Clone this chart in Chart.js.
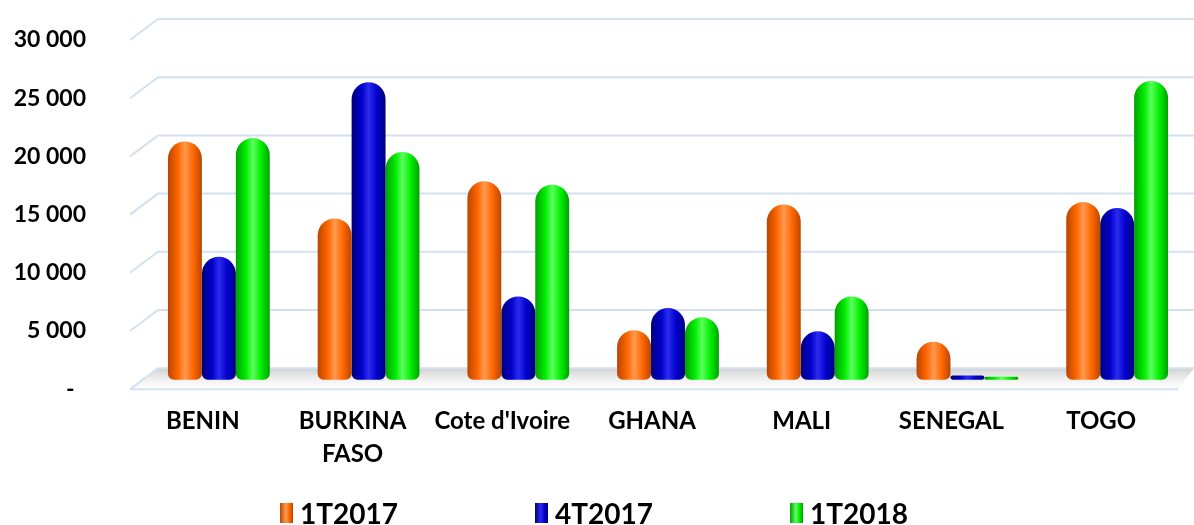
<!DOCTYPE html>
<html>
<head>
<meta charset="utf-8">
<script src="https://cdn.jsdelivr.net/npm/chart.js@4"></script>
<style>
body { margin: 0; background: #fff; }
#wrap { position: relative; width: 1194px; height: 525px; overflow: hidden; }
#box { position: absolute; left: 0; top: 0; width: 1194px; height: 500px; }
#legend { position: absolute; left: 280px; top: 496px; display: flex; font: bold 28px Lato; color: #000; }
.item { width: 255px; display: flex; align-items: center; }
.sw { width: 13px; height: 20px; margin-right: 7px; }
</style>
</head>
<body>
<div id="wrap">
  <div id="box"><canvas id="c"></canvas></div>
  <div id="legend"></div>
</div>
<script>
// values (cylinder tops)
const categories = ['BENIN', ['BURKINA', 'FASO'], "Cote d'Ivoire", 'GHANA', 'MALI', 'SENEGAL', 'TOGO'];
const series_names = ['1T2017', '4T2017', '1T2018'];
const v_1T2017 = [20500, 13900, 17100, 4300, 15100, 3300, 15300];
const v_4T2017 = [10600, 25600, 7200, 6200, 4200, 400, 14800];
const v_1T2018 = [20800, 19600, 16800, 5400, 7200, 300, 25700];
const y_ticks = [0, 5000, 10000, 15000, 20000, 25000, 30000];

// base, dark edge, highlight
const colors = [
    ['#ff6600', '#b84600', '#ff9a50'],
    ['#0000cc', '#00007a', '#2b2bf0'],
    ['#00ee00', '#00a000', '#5cff5c']
];

function fmt(v) {
    // zero shown as a dash, like the accounting format
    if (v === 0) return '-\u2002';
    return String(v).replace(/\B(?=(\d{3})+(?!\d))/g, ' ');
}

// back wall grid lines, floor, and cylinder shading
const depth_plugin = {
    id: 'depth',
    beforeDatasetsDraw(chart) {
        const ctx = chart.ctx;
        const area = chart.chartArea;
        const ys = chart.scales.y;
        ctx.save();
        // floor
        let y0 = ys.getPixelForValue(0);
        let g = ctx.createLinearGradient(0, y0 - 12, 0, y0 + 9);
        g.addColorStop(0, 'rgba(150,150,150,0.45)');
        g.addColorStop(0.6, 'rgba(220,220,220,0.35)');
        g.addColorStop(1, 'rgba(250,250,250,0.2)');
        ctx.fillStyle = g;
        ctx.beginPath();
        ctx.moveTo(area.left - 14, y0 + 9);
        ctx.lineTo(area.left + 14, y0 - 12);
        ctx.lineTo(chart.width, y0 - 12);
        ctx.lineTo(area.right - 14, y0 + 9);
        ctx.closePath();
        ctx.fill();
        ctx.strokeStyle = '#d3e0f0';
        ctx.lineWidth = 2;
        ctx.beginPath();
        ctx.moveTo(area.left - 14, y0 + 9);
        ctx.lineTo(area.right - 14, y0 + 9);
        ctx.stroke();
        // grid lines
        y_ticks.forEach(v => {
            const y = ys.getPixelForValue(v);
            ctx.beginPath();
            ctx.moveTo(area.left - 14, y + 9);
            ctx.lineTo(area.left + 14, y - 12);
            ctx.lineTo(chart.width, y - 12);
            ctx.stroke();
        });
        ctx.restore();
        // shading of the bars
        chart.data.datasets.forEach((ds, i) => {
            const meta = chart.getDatasetMeta(i);
            meta.data.forEach(el => {
                const gr = ctx.createLinearGradient(el.x - el.width / 2, 0, el.x + el.width / 2, 0);
                gr.addColorStop(0, colors[i][1]);
                gr.addColorStop(0.3, colors[i][0]);
                gr.addColorStop(0.5, colors[i][2]);
                gr.addColorStop(0.75, colors[i][0]);
                gr.addColorStop(1, colors[i][1]);
                el.options.backgroundColor = gr;
            });
        });
    }
};

const all_values = [v_1T2017, v_4T2017, v_1T2018];
const datasets = series_names.map((name, i) => ({
    label: name,
    data: all_values[i],
    backgroundColor: () => colors[i][0],
    borderWidth: 0,
    borderSkipped: false,
    borderRadius: { topLeft: 17, topRight: 17, bottomLeft: 6, bottomRight: 6 },
    categoryPercentage: 0.68,
    barPercentage: 1.0
}));

new Chart(document.getElementById('c'), {
    type: 'bar',
    data: { labels: categories, datasets: datasets },
    options: {
        responsive: true,
        maintainAspectRatio: false,
        animation: false,
        layout: { padding: { top: 31, right: 2, bottom: 13, left: 0 } },
        plugins: {
            legend: { display: false },
            tooltip: { enabled: false }
        },
        scales: {
            x: {
                grid: { display: false },
                border: { display: false },
                ticks: {
                    font: { family: 'Lato', size: 24, weight: 'bold', lineHeight: 1.35 },
                    color: '#000',
                    padding: 17,
                    labelOffset: -16,
                    maxRotation: 0,
                    autoSkip: false
                }
            },
            y: {
                min: 0,
                max: 30000,
                // invisible tick marks push the labels away from the plot
                grid: { display: true, drawOnChartArea: false, color: 'rgba(0,0,0,0)', tickLength: 58 },
                border: { display: false },
                afterBuildTicks(scale) {
                    scale.ticks = y_ticks.map(v => ({ value: v }));
                },
                afterFit(scale) {
                    scale.width = 144;
                },
                ticks: {
                    font: { family: 'Lato', size: 23, weight: 'bold' },
                    color: '#000',
                    padding: 0,
                    labelOffset: 9,
                    callback: v => fmt(v)
                }
            }
        }
    },
    plugins: [depth_plugin]
});

// legend below the chart
const legend = document.getElementById('legend');
series_names.forEach((name, i) => {
    const item = document.createElement('div');
    item.className = 'item';
    const sw = document.createElement('div');
    sw.className = 'sw';
    sw.style.background = 'linear-gradient(to right,' + colors[i][1] + ',' + colors[i][2] + ' 45%,' + colors[i][0] + ',' + colors[i][1] + ')';
    const txt = document.createElement('span');
    txt.textContent = name;
    item.appendChild(sw);
    item.appendChild(txt);
    legend.appendChild(item);
});
</script>
</body>
</html>
